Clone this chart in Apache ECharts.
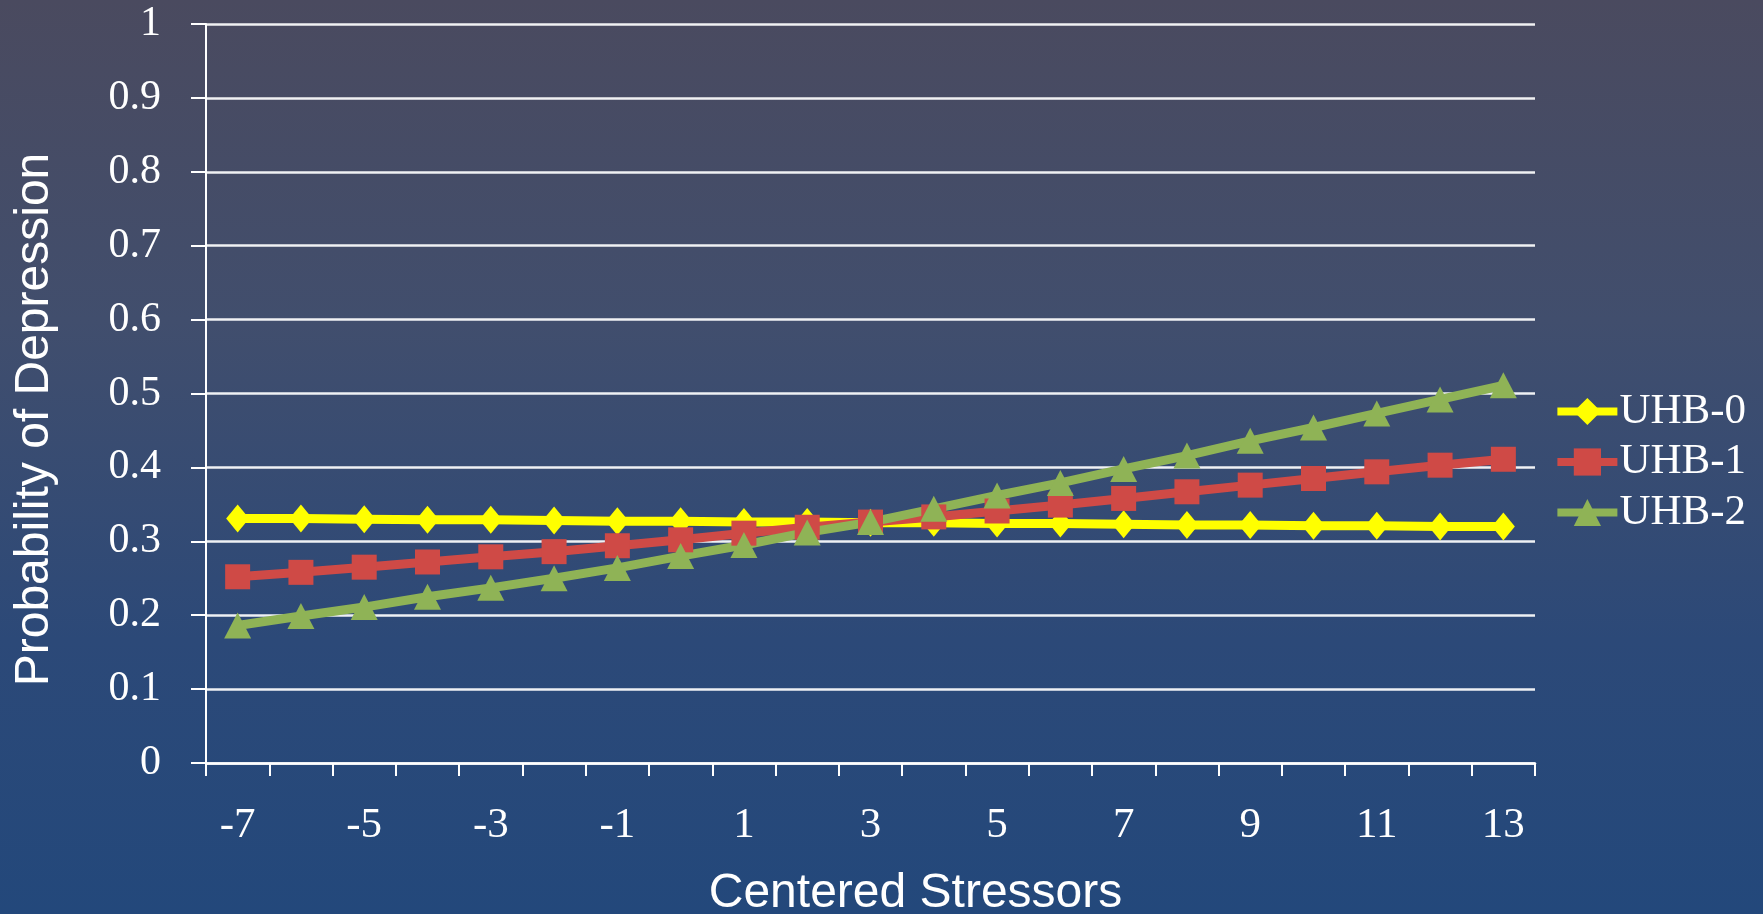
<!DOCTYPE html>
<html>
<head>
<meta charset="utf-8">
<title>Probability of Depression by Centered Stressors</title>
<script src="https://cdn.jsdelivr.net/npm/echarts@6/dist/echarts.min.js"></script>
<style>
  html, body { margin: 0; padding: 0; width: 100%; height: 100%; overflow: hidden; }
  #chart { width: 1763px; height: 914px; }
</style>
</head>
<body>
<div id="chart"></div>
<script>
// Centered stressor values along the x axis
const stressors = [-7, -6, -5, -4, -3, -2, -1, 0, 1, 2, 3, 4, 5, 6, 7, 8, 9, 10, 11, 12, 13];

// Predicted probability of depression for each UHB group
const uhb0 = [0.331, 0.331, 0.330, 0.329, 0.329, 0.328, 0.327, 0.327, 0.326, 0.326, 0.325,
              0.325, 0.324, 0.324, 0.323, 0.322, 0.322, 0.321, 0.321, 0.320, 0.320];
const uhb1 = [0.252, 0.258, 0.265, 0.272, 0.279, 0.286, 0.294, 0.302, 0.311, 0.319, 0.326,
              0.333, 0.341, 0.349, 0.358, 0.367, 0.376, 0.385, 0.394, 0.403, 0.411];
const uhb2 = [0.186, 0.199, 0.211, 0.225, 0.237, 0.250, 0.264, 0.280, 0.295, 0.312, 0.326,
              0.344, 0.362, 0.379, 0.398, 0.416, 0.436, 0.454, 0.473, 0.492, 0.511];

const seriesNames = ['UHB-0', 'UHB-1', 'UHB-2'];
const yTicks = { min: 0, max: 1, step: 0.1 };

const serif = 'Liberation Serif, Times New Roman, serif';
const sans = 'Liberation Sans, Arial, sans-serif';

const chart = echarts.init(document.getElementById('chart'), null, { renderer: 'canvas' });

function lineSeries(name, data, color, symbol, size) {
  return {
    name: name,
    type: 'line',
    data: data,
    symbol: symbol,
    symbolSize: size,
    showAllSymbol: true,
    lineStyle: { color: color, width: 9 },
    itemStyle: { color: color, borderWidth: 0 },
    emphasis: { disabled: true },
    animation: false
  };
}

chart.setOption({
  backgroundColor: new echarts.graphic.LinearGradient(0, 0, 0, 1, [
    { offset: 0, color: '#4a4a5f' },
    { offset: 0.35, color: '#414e6d' },
    { offset: 0.7, color: '#2c4978' },
    { offset: 1, color: '#23487b' }
  ]),
  animation: false,
  // fixed plot rectangle; the axis title may run to the bottom edge
  grid: { left: 206, right: 228, top: 24, bottom: 151, containLabel: false, outerBoundsMode: 'none' },
  legend: {
    orient: 'vertical',
    right: 17,
    top: 390,
    padding: 0,
    itemWidth: 60,
    itemHeight: 34,
    itemGap: 7.5,
    lineStyle: { width: 8 },
    textStyle: { color: '#ffffff', fontFamily: serif, fontSize: 43, padding: [0, 0, 0, -3] },
    data: seriesNames
  },
  xAxis: {
    type: 'category',
    data: stressors,
    boundaryGap: true,
    name: 'Centered Stressors',
    nameLocation: 'middle',
    nameGap: 107,
    nameTextStyle: { color: '#ffffff', fontFamily: sans, fontSize: 48, padding: [0, 0, 0, 90] },
    axisLine: { lineStyle: { color: '#ffffff', width: 2.5 } },
    axisTick: { show: true, interval: 0, length: 13, lineStyle: { color: '#ffffff', width: 2 } },
    axisLabel: { interval: 1, color: '#ffffff', fontFamily: serif, fontSize: 43, margin: 41 },
    splitLine: { show: false }
  },
  yAxis: {
    type: 'value',
    min: yTicks.min,
    max: yTicks.max,
    interval: yTicks.step,
    name: 'Probability of Depression',
    nameLocation: 'middle',
    nameGap: 147,
    nameTextStyle: { color: '#ffffff', fontFamily: sans, fontSize: 48, padding: [0, 52, 0, 0] },
    axisLine: { show: true, lineStyle: { color: '#ffffff', width: 2 } },
    axisTick: { show: true, length: 15, lineStyle: { color: '#ffffff', width: 2 } },
    axisLabel: { color: '#ffffff', fontFamily: serif, fontSize: 42, margin: 45 },
    splitLine: { show: true, lineStyle: { color: '#ffffff', width: 2.5, opacity: 0.92 } }
  },
  series: [
    lineSeries(seriesNames[0], uhb0, '#ffff00', 'diamond', [23, 28]),
    lineSeries(seriesNames[1], uhb1, '#cf4a46', 'rect', 25),
    lineSeries(seriesNames[2], uhb2, '#8fb356', 'triangle', [27, 26])
  ]
});
</script>
</body>
</html>
